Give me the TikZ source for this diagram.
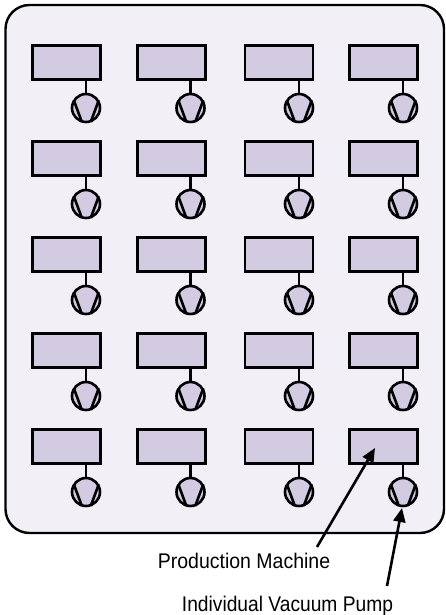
\documentclass[tikz,border=0pt]{standalone}
\usepackage{fontspec}
\setmainfont[FakeStretch=0.92]{Liberation Sans}
\usetikzlibrary{arrows.meta,calc}
\definecolor{panelbg}{HTML}{F2F0F6}
\definecolor{lilac}{HTML}{D2CBE1}
\tikzset{
  x=1pt,y=-1pt,
  panel/.style={draw=black,line width=2.4pt,fill=panelbg,rounded corners=24pt},
  machine/.style={draw=black,line width=2.6pt,fill=lilac,minimum width=68pt,minimum height=34pt,inner sep=0pt,outer sep=1.3pt,anchor=north west},
  pump/.style={draw=black,line width=2.6pt,fill=lilac,circle,minimum size=28pt,inner sep=0pt,outer sep=1.3pt},
  link/.style={draw=black,line width=2.6pt},
  vane/.style={draw=black,line width=2.6pt},
  callout/.style={draw=black,line width=2.6pt,-{Triangle[length=14pt,width=12pt]}},
  caption/.style={inner sep=0pt,font=\fontsize{21.2pt}{24pt}\selectfont,anchor=base}
}
\begin{document}
\begin{tikzpicture}
\useasboundingbox (0,0) rectangle (445,615);
\path[panel] (5.5,5) rectangle (444,533);
\foreach \r/\y in {1/44,2/140,3/236,4/332,5/428}{
  \foreach \c/\x/\px in {1/31/86,2/136/190.5,3/243.5/299,4/348/403}{
    \node[machine] (m\r\c) at (\x,\y) {};
    \node[pump] (p\r\c) at (\px,\y+64) {};
    \draw[link] (p\r\c.north |- m\r\c.south) -- (p\r\c.north);
    \draw[vane] ($(p\r\c)+(-12.2,-7.8)$) -- ($(p\r\c)+(-4.2,13.8)$);
    \draw[vane] ($(p\r\c)+(12.8,-7.8)$) -- ($(p\r\c)+(4.8,13.8)$);
  }
}
\node[caption] (lab1) at (244,568) {Production Machine};
\node[caption,xscale=0.985] (lab2) at (287.5,611) {Individual Vacuum Pump};
\coordinate (s1) at (317,547);
\coordinate (t1) at (375,448);
\coordinate (s2) at (387,586);
\coordinate (t2) at (402,508);
\draw[callout] (s1) -- (t1);
\draw[callout] (s2) -- (t2);
\end{tikzpicture}
\end{document}
